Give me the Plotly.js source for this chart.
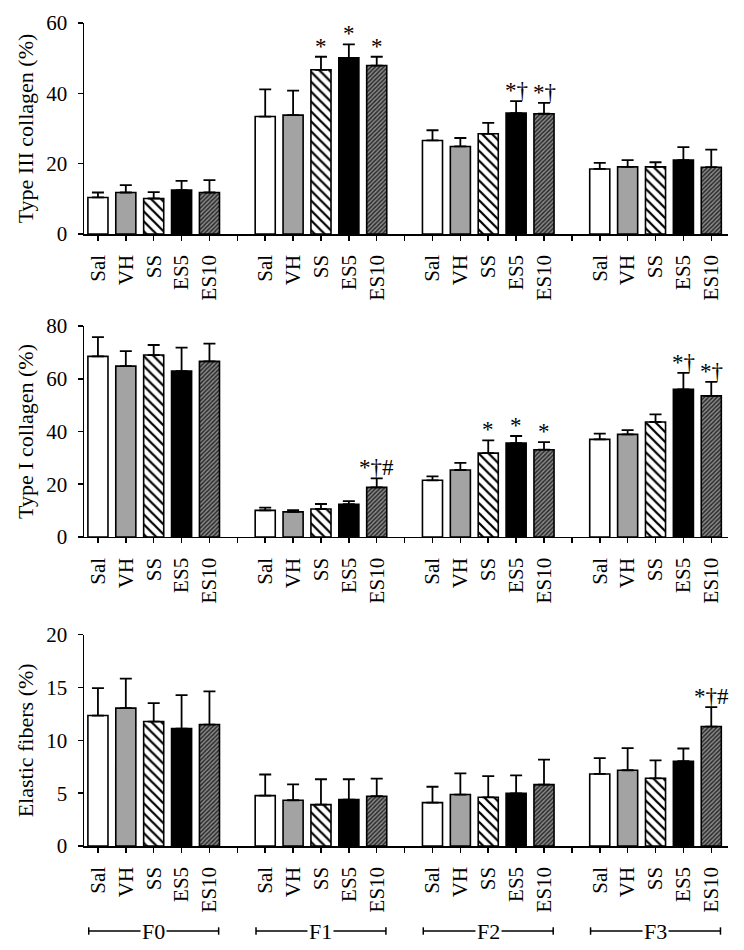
<!DOCTYPE html>
<html>
<head>
<meta charset="utf-8">
<script src="https://cdn.plot.ly/plotly-3.0.1.min.js"></script>
<style>html,body{margin:0;padding:0;background:#fff;}#chart{width:744px;height:950px;}</style>
</head>
<body>
<div id="chart"></div>
<script>
// ---- data ----
const groups = ['F0', 'F1', 'F2', 'F3'];
const treatments = ['Sal', 'VH', 'SS', 'ES5', 'ES10'];

// rows = treatments (Sal, VH, SS, ES5, ES10), columns = groups (F0..F3)
const type3Mean = [
  [10.4, 33.4, 26.6, 18.5],
  [11.8, 33.8, 24.9, 19.1],
  [10.1, 46.7, 28.5, 19.1],
  [12.5, 50.1, 34.4, 21.0],
  [11.8, 47.9, 34.2, 19.0]
];
const type3Err = [
  [1.4, 7.7, 2.9, 1.7],
  [2.1, 7.0, 2.4, 1.9],
  [1.8, 3.7, 3.1, 1.3],
  [2.6, 3.8, 3.4, 3.7],
  [3.5, 2.5, 3.1, 5.0]
];
const type3Sig = [
  ['', '', '', ''],
  ['', '', '', ''],
  ['', '*', '', ''],
  ['', '*', '*†', ''],
  ['', '*', '*†', '']
];

const type1Mean = [
  [68.5, 10.1, 21.5, 37.0],
  [64.8, 9.5, 25.4, 38.9],
  [69.0, 10.6, 31.8, 43.6],
  [62.9, 12.4, 35.6, 56.0],
  [66.6, 18.8, 33.1, 53.5]
];
const type1Err = [
  [7.3, 1.0, 1.5, 2.2],
  [5.7, 0.7, 2.7, 1.6],
  [3.8, 1.9, 4.8, 2.9],
  [8.9, 1.2, 2.7, 6.2],
  [6.7, 3.4, 2.9, 5.3]
];
const type1Sig = [
  ['', '', '', ''],
  ['', '', '', ''],
  ['', '', '*', ''],
  ['', '', '*', '*†'],
  ['', '*†#', '*', '*†']
];

const elasticMean = [
  [12.35, 4.77, 4.11, 6.82],
  [13.05, 4.33, 4.87, 7.17],
  [11.78, 3.92, 4.61, 6.41],
  [11.12, 4.39, 4.99, 8.03],
  [11.5, 4.71, 5.81, 11.31]
];
const elasticErr = [
  [2.6, 2.0, 1.5, 1.5],
  [2.8, 1.5, 2.0, 2.1],
  [1.74, 2.4, 2.0, 1.7],
  [3.16, 1.93, 1.7, 1.2],
  [3.13, 1.67, 2.37, 1.83]
];
const elasticSig = [
  ['', '', '', ''],
  ['', '', '', ''],
  ['', '', '', ''],
  ['', '', '', ''],
  ['', '', '', '*†#']
];

const panelTitles = ['Type III collagen (%)', 'Type I collagen (%)', 'Elastic fibers (%)'];
const panelRanges = [[0, 60], [0, 80], [0, 20]];
const panelDticks = [20, 20, 5];

// ---- styling ----
const FONT = 'Liberation Serif, Times New Roman, serif';
const TICK_SIZE = 21;
const slotsPerGroup = treatments.length + 1;
const pos = (g, t) => g * slotsPerGroup + t;

const styles = [
  {color: '#ffffff'},
  {color: '#a3a3a3'},
  {color: '#ffffff', pattern: {shape: '\\', fgcolor: '#000', bgcolor: '#fff', size: 7, solidity: 0.32, fillmode: 'replace'}},
  {color: '#000000'},
  {color: '#8c8c8c', pattern: {shape: '/', fgcolor: '#2a2a2a', bgcolor: '#8c8c8c', size: 3, solidity: 0.5, fillmode: 'replace'}}
];

const panels = [
  {mean: type3Mean, err: type3Err, sig: type3Sig},
  {mean: type1Mean, err: type1Err, sig: type1Sig},
  {mean: elasticMean, err: elasticErr, sig: elasticSig}
];

// paper margins: l=84, r=16, t=23, b=104 -> plot 644 x 823
const domains = [[0.7436, 1.0], [0.3755, 0.6318], [0.0, 0.2567]];

const traces = [];
const annotations = [];
const shapes = [];

const tickvals = [];
const ticktext = [];
const nSlots = groups.length * slotsPerGroup - 1;
for (let s = 0; s < nSlots; s++) {
  tickvals.push(s);
  const t = s % slotsPerGroup;
  ticktext.push(t < treatments.length ? treatments[t] : '');
}

const layout = {
  width: 744, height: 950,
  margin: {l: 84, r: 16, t: 23, b: 104},
  paper_bgcolor: '#fff', plot_bgcolor: '#fff',
  showlegend: false,
  barmode: 'overlay',
  font: {family: FONT, size: TICK_SIZE, color: '#000'}
};

panels.forEach((p, pi) => {
  const ax = pi === 0 ? '' : String(pi + 1);
  const xa = 'x' + ax, ya = 'y' + ax;
  treatments.forEach((tr, ti) => {
    const st = styles[ti];
    const marker = {color: st.color, line: {color: '#000', width: 1.6}};
    if (st.pattern) marker.pattern = st.pattern;
    traces.push({
      type: 'bar',
      name: tr,
      x: groups.map((g, gi) => pos(gi, ti)),
      y: p.mean[ti],
      width: 0.72,
      xaxis: xa, yaxis: ya,
      marker: marker,
      error_y: {type: 'data', symmetric: false, array: p.err[ti], arrayminus: p.err[ti].map(() => 0),
        color: '#000', thickness: 1.8, width: 6},
      hoverinfo: 'skip'
    });
    groups.forEach((g, gi) => {
      const txt = p.sig[ti][gi];
      if (txt) {
        annotations.push({
          x: pos(gi, ti), y: p.mean[ti][gi] + p.err[ti][gi],
          xref: xa, yref: ya, text: txt, showarrow: false,
          xanchor: 'center', yanchor: 'bottom', yshift: -4,
          font: {family: FONT, size: 23, color: '#000'}
        });
      }
    });
  });
  layout['xaxis' + ax] = {
    domain: [0, 1], anchor: ya, range: [-0.5, 22.6],
    tickmode: 'array', tickvals: tickvals, ticktext: ticktext,
    tickangle: -90, ticks: 'outside', ticklen: 5, tickwidth: 1.5, tickcolor: '#000',
    showline: true, linecolor: '#000', linewidth: 1.5,
    showgrid: false, zeroline: false, fixedrange: true,
    tickfont: {family: FONT, size: TICK_SIZE, color: '#000'},
    ticklabelstandoff: 6
  };
  layout['yaxis' + ax] = {
    domain: domains[pi], anchor: xa, range: panelRanges[pi], dtick: panelDticks[pi],
    ticks: 'outside', ticklen: 5, tickwidth: 1.5, tickcolor: '#000',
    showline: true, linecolor: '#000', linewidth: 1.5,
    showgrid: false, zeroline: false, fixedrange: true,
    tickfont: {family: FONT, size: TICK_SIZE, color: '#000'},
    ticklabelstandoff: 6,
    title: {text: panelTitles[pi], font: {family: FONT, size: 22, color: '#000'}, standoff: 6}
  };
});

// group brackets under bottom panel
const bracketY = -0.1033;
const capH = 0.0045;
groups.forEach((g, gi) => {
  const c = pos(gi, 2);
  const x0 = c - 2.33, x1 = c + 2.33;
  shapes.push({type: 'line', xref: 'x3', yref: 'paper', x0: x0, x1: x1, y0: bracketY, y1: bracketY, line: {color: '#000', width: 1.5}});
  shapes.push({type: 'line', xref: 'x3', yref: 'paper', x0: x0, x1: x0, y0: bracketY - capH, y1: bracketY + capH, line: {color: '#000', width: 1.5}});
  shapes.push({type: 'line', xref: 'x3', yref: 'paper', x0: x1, x1: x1, y0: bracketY - capH, y1: bracketY + capH, line: {color: '#000', width: 1.5}});
  annotations.push({
    x: c, y: bracketY, xref: 'x3', yref: 'paper', text: g, showarrow: false,
    xanchor: 'center', yanchor: 'middle', bgcolor: '#fff', borderpad: 1,
    font: {family: FONT, size: 22, color: '#000'}
  });
});

layout.annotations = annotations;
layout.shapes = shapes;

Plotly.newPlot('chart', traces, layout, {displayModeBar: false, staticPlot: true});
</script>
</body>
</html>
